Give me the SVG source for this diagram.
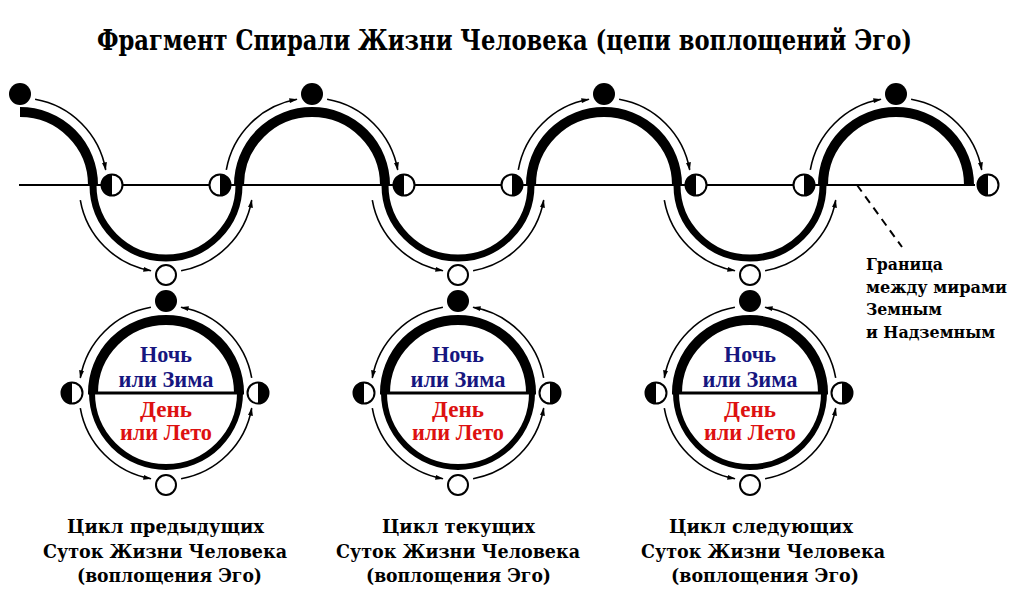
<svg xmlns="http://www.w3.org/2000/svg" width="1012" height="596" viewBox="0 0 1012 596">
<style>
.bu{fill:none;stroke:#000;stroke-width:10;stroke-linecap:butt}
.bd{fill:none;stroke:#000;stroke-width:7;stroke-linecap:butt}
.rt{fill:none;stroke:#000;stroke-width:10}
.rb{fill:none;stroke:#000;stroke-width:6}
.dia{stroke:#000;stroke-width:3}
.th{fill:none;stroke:#000;stroke-width:1.6;marker-end:url(#ah)}
.dot{fill:#000}
.wc{fill:#fff;stroke:#000;stroke-width:2}
.hm{fill:#fff;stroke:#000;stroke-width:2}
.hb{fill:#000}
.ttl{font-family:"DejaVu Serif","Liberation Serif",serif;font-weight:bold;font-stretch:condensed;font-size:27px;fill:#000}
.lab{font-family:"DejaVu Serif","Liberation Serif",serif;font-weight:bold;font-size:18.5px;fill:#000}
.gr{font-family:"DejaVu Serif","Liberation Serif",serif;font-weight:bold;font-size:16px;fill:#000}
.nt{font-family:"Liberation Serif","DejaVu Serif",serif;font-weight:bold;font-size:23px;fill:#16167f;text-anchor:middle}
.dt{font-family:"Liberation Serif","DejaVu Serif",serif;font-weight:bold;font-size:23px;fill:#dd1111;text-anchor:middle}
</style>
<defs>
<marker id="ah" viewBox="0 0 10 6" refX="9" refY="3" markerWidth="9" markerHeight="5" markerUnits="userSpaceOnUse" orient="auto">
<path d="M0,0 L10,3 L0,6 z" fill="#000"/>
</marker>
<g id="hmL"><circle r="10.5" class="hm"/><path d="M0,-10.5 A10.5,10.5 0 0 0 0,10.5 Z" class="hb"/></g>
<g id="hmR"><circle r="10.5" class="hm"/><path d="M0,-10.5 A10.5,10.5 0 0 1 0,10.5 Z" class="hb"/></g>
</defs>
<rect width="1012" height="596" fill="#fff"/>

<text class="ttl" x="97" y="50" textLength="815" lengthAdjust="spacingAndGlyphs">Фрагмент Спирали Жизни Человека (цепи воплощений Эго)</text>

<g id="spiral">
<path d="M19,185 H975" fill="none" stroke="#000" stroke-width="2"/>
<path class="bu" d="M20,112 A73,73 0 0 1 93,185"/>
<path class="bd" d="M93,185 A73,73 0 0 0 239,185"/>
<path class="bu" d="M239,185 A73,73 0 0 1 385,185"/>
<path class="bd" d="M385,185 A73,73 0 0 0 531,185"/>
<path class="bu" d="M531,185 A73,73 0 0 1 677,185"/>
<path class="bd" d="M677,185 A73,73 0 0 0 823,185"/>
<path class="bu" d="M823,185 A73,73 0 0 1 969,185"/>
<path d="M857,185 L902,247" fill="none" stroke="#000" stroke-width="2" stroke-dasharray="8 6"/>
</g>

<g id="connectors">
<path class="th" d="M35.1,99.3 A87,87 0 0 1 105.7,169.9"/>
<path class="th" d="M80.3,200.1 A87,87 0 0 0 150.9,270.7"/>
<path class="th" d="M181.1,270.7 A87,87 0 0 0 251.7,200.1"/>
<path class="th" d="M226.3,169.9 A87,87 0 0 1 296.9,99.3"/>
<path class="th" d="M327.1,99.3 A87,87 0 0 1 397.7,169.9"/>
<path class="th" d="M372.3,200.1 A87,87 0 0 0 442.9,270.7"/>
<path class="th" d="M473.1,270.7 A87,87 0 0 0 543.7,200.1"/>
<path class="th" d="M518.3,169.9 A87,87 0 0 1 588.9,99.3"/>
<path class="th" d="M619.1,99.3 A87,87 0 0 1 689.7,169.9"/>
<path class="th" d="M664.3,200.1 A87,87 0 0 0 734.9,270.7"/>
<path class="th" d="M765.1,270.7 A87,87 0 0 0 835.7,200.1"/>
<path class="th" d="M810.3,169.9 A87,87 0 0 1 880.9,99.3"/>
<path class="th" d="M911.1,99.3 A87,87 0 0 1 981.7,169.9"/>
<path class="th" d="M251.7,377.9 A87,87 0 0 0 181.1,307.3"/>
<path class="th" d="M150.9,307.3 A87,87 0 0 0 80.3,377.9"/>
<path class="th" d="M80.3,408.1 A87,87 0 0 0 150.9,478.7"/>
<path class="th" d="M181.1,478.7 A87,87 0 0 0 251.7,408.1"/>
<path class="th" d="M543.7,377.9 A87,87 0 0 0 473.1,307.3"/>
<path class="th" d="M442.9,307.3 A87,87 0 0 0 372.3,377.9"/>
<path class="th" d="M372.3,408.1 A87,87 0 0 0 442.9,478.7"/>
<path class="th" d="M473.1,478.7 A87,87 0 0 0 543.7,408.1"/>
<path class="th" d="M835.7,377.9 A87,87 0 0 0 765.1,307.3"/>
<path class="th" d="M734.9,307.3 A87,87 0 0 0 664.3,377.9"/>
<path class="th" d="M664.3,408.1 A87,87 0 0 0 734.9,478.7"/>
<path class="th" d="M765.1,478.7 A87,87 0 0 0 835.7,408.1"/>
</g>

<g id="peak0"><circle class="dot" cx="20" cy="94" r="11"/></g>
<g id="peak1"><circle class="dot" cx="312" cy="94" r="11"/></g>
<g id="peak2"><circle class="dot" cx="604" cy="94" r="11"/></g>
<g id="peak3"><circle class="dot" cx="896" cy="94" r="11"/></g>
<g id="trough1"><circle class="wc" cx="166" cy="275" r="10"/></g>
<g id="trough2"><circle class="wc" cx="458" cy="275" r="10"/></g>
<g id="trough3"><circle class="wc" cx="750" cy="275" r="10"/></g>
<g id="hm1"><use href="#hmL" x="112" y="185"/></g>
<g id="hm2"><use href="#hmR" x="220" y="185"/></g>
<g id="hm3"><use href="#hmL" x="404" y="185"/></g>
<g id="hm4"><use href="#hmR" x="512" y="185"/></g>
<g id="hm5"><use href="#hmL" x="696" y="185"/></g>
<g id="hm6"><use href="#hmR" x="804" y="185"/></g>
<g id="hm7"><use href="#hmL" x="988" y="185"/></g>

<g id="cycle1">
<path class="rt" d="M93,393 A73,73 0 0 1 239,393"/>
<path class="rb" d="M92,393 A74,74 0 0 0 240,393"/>
<path class="dia" d="M88,393 H244"/>
<circle class="dot" cx="166" cy="301" r="11"/>
<circle class="wc" cx="166" cy="485" r="10"/>
<use href="#hmL" x="72" y="393"/>
<use href="#hmR" x="258" y="393"/>
<text class="nt" x="166" y="362" textLength="52" lengthAdjust="spacingAndGlyphs">Ночь</text>
<text class="nt" x="166" y="387" textLength="95" lengthAdjust="spacingAndGlyphs">или Зима</text>
<text class="dt" x="166" y="417" textLength="52" lengthAdjust="spacingAndGlyphs">День</text>
<text class="dt" x="166" y="440" textLength="92" lengthAdjust="spacingAndGlyphs">или Лето</text>
</g>

<g id="cycle2">
<path class="rt" d="M385,393 A73,73 0 0 1 531,393"/>
<path class="rb" d="M384,393 A74,74 0 0 0 532,393"/>
<path class="dia" d="M380,393 H536"/>
<circle class="dot" cx="458" cy="301" r="11"/>
<circle class="wc" cx="458" cy="485" r="10"/>
<use href="#hmL" x="364" y="393"/>
<use href="#hmR" x="550" y="393"/>
<text class="nt" x="458" y="362" textLength="52" lengthAdjust="spacingAndGlyphs">Ночь</text>
<text class="nt" x="458" y="387" textLength="95" lengthAdjust="spacingAndGlyphs">или Зима</text>
<text class="dt" x="458" y="417" textLength="52" lengthAdjust="spacingAndGlyphs">День</text>
<text class="dt" x="458" y="440" textLength="92" lengthAdjust="spacingAndGlyphs">или Лето</text>
</g>

<g id="cycle3">
<path class="rt" d="M677,393 A73,73 0 0 1 823,393"/>
<path class="rb" d="M676,393 A74,74 0 0 0 824,393"/>
<path class="dia" d="M672,393 H828"/>
<circle class="dot" cx="750" cy="301" r="11"/>
<circle class="wc" cx="750" cy="485" r="10"/>
<use href="#hmL" x="656" y="393"/>
<use href="#hmR" x="842" y="393"/>
<text class="nt" x="750" y="362" textLength="52" lengthAdjust="spacingAndGlyphs">Ночь</text>
<text class="nt" x="750" y="387" textLength="95" lengthAdjust="spacingAndGlyphs">или Зима</text>
<text class="dt" x="750" y="417" textLength="52" lengthAdjust="spacingAndGlyphs">День</text>
<text class="dt" x="750" y="440" textLength="92" lengthAdjust="spacingAndGlyphs">или Лето</text>
</g>

<g id="label-border">
<text class="gr" x="866" y="270" textLength="77" lengthAdjust="spacingAndGlyphs">Граница</text>
<text class="gr" x="866" y="293" textLength="141" lengthAdjust="spacingAndGlyphs">между мирами</text>
<text class="gr" x="866" y="315" textLength="76" lengthAdjust="spacingAndGlyphs">Земным</text>
<text class="gr" x="866" y="338" textLength="129" lengthAdjust="spacingAndGlyphs">и Надземным</text>
</g>

<g id="label1">
<text class="lab" x="67" y="533" textLength="197" lengthAdjust="spacingAndGlyphs">Цикл предыдущих</text>
<text class="lab" x="43" y="558" textLength="244" lengthAdjust="spacingAndGlyphs">Суток Жизни Человека</text>
<text class="lab" x="77" y="582" textLength="185" lengthAdjust="spacingAndGlyphs">(воплощения Эго)</text>
</g>
<g id="label2">
<text class="lab" x="382" y="533" textLength="153" lengthAdjust="spacingAndGlyphs">Цикл текущих</text>
<text class="lab" x="336" y="558" textLength="244" lengthAdjust="spacingAndGlyphs">Суток Жизни Человека</text>
<text class="lab" x="366" y="582" textLength="185" lengthAdjust="spacingAndGlyphs">(воплощения Эго)</text>
</g>
<g id="label3">
<text class="lab" x="669" y="533" textLength="184" lengthAdjust="spacingAndGlyphs">Цикл следующих</text>
<text class="lab" x="641" y="558" textLength="244" lengthAdjust="spacingAndGlyphs">Суток Жизни Человека</text>
<text class="lab" x="671" y="582" textLength="188" lengthAdjust="spacingAndGlyphs">(воплощения Эго)</text>
</g>
</svg>
